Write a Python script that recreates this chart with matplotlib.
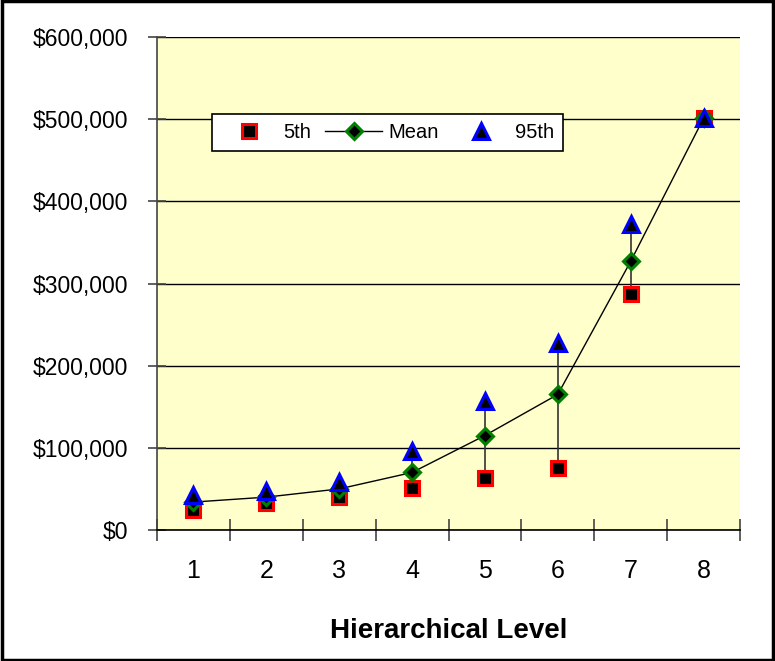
import matplotlib.pyplot as plt
from matplotlib.patches import Rectangle
from matplotlib.ticker import FuncFormatter, FixedLocator

plt.rcParams['font.family'] = ['Liberation Sans', 'DejaVu Sans']

levels = [1, 2, 3, 4, 5, 6, 7, 8]
p5 = [24000, 33000, 40000, 51000, 63000, 75000, 287000, 502000]
mean = [34000, 40000, 50000, 70000, 115000, 165000, 327000, 501000]
p95 = [42000, 48000, 59000, 96000, 157000, 228000, 372000, 501000]

fig = plt.figure(figsize=(7.75, 6.61), dpi=100)
ax = fig.add_axes([157 / 775, 1 - 530 / 661, (740 - 157) / 775, (530 - 37) / 661])
ax.set_facecolor("#FFFFCC")

# high-low lines
ax.vlines(levels, p5, p95, color="#333333", lw=1.2, zorder=2)

ax.plot(levels, p5, ls="none", marker="s", ms=9.5, mfc="black", mec="red", mew=2.2,
        label="5th", zorder=3)
ax.plot(levels, mean, color="black", lw=1, marker="D", ms=8, mfc="black", mec="green",
        mew=2.2, label="Mean", zorder=4)
ax.plot(levels, p95, ls="none", marker="^", ms=11, mfc="black", mec="blue", mew=2.2,
        label="95th", zorder=5)

ax.set_xlim(0.5, 8.5)
ax.set_ylim(0, 600000)
ax.set_yticks(range(0, 600001, 100000))
ax.yaxis.set_major_formatter(FuncFormatter(lambda v, p: "${:,.0f}".format(v)))
ax.grid(axis="y", color="black", lw=1)
ax.set_axisbelow(True)

ax.set_xticks(levels)
ax.xaxis.set_minor_locator(FixedLocator([i + 0.5 for i in range(0, 9)]))
ax.tick_params(axis="x", which="major", length=0, pad=21, labelsize=18)
ax.tick_params(axis="x", which="minor", length=16, width=1.2, color="#444444", direction="inout")
ax.tick_params(axis="y", length=13, width=1.2, color="#444444", direction="inout",
               labelsize=16.5, pad=14)

for s in ["top", "right"]:
    ax.spines[s].set_visible(False)
ax.spines["left"].set_color("#444444")
ax.spines["left"].set_linewidth(1.2)
ax.spines["bottom"].set_color("black")
ax.spines["bottom"].set_linewidth(1.2)

ax.set_xlabel("Hierarchical Level", fontsize=20, fontweight="bold", labelpad=25)

leg = fig.legend(loc="center", bbox_to_anchor=(387.5 / 775, 1 - 132.5 / 661), ncol=3,
                 fontsize=14.5, frameon=True, fancybox=False,
                 edgecolor="black", framealpha=1, numpoints=1, handlelength=2.8,
                 columnspacing=0.7, handletextpad=0.3, borderpad=0.45, borderaxespad=0)
leg.get_frame().set_linewidth(1.2)

fig.patches.append(Rectangle((0.002, 0.002), 0.996, 0.996, transform=fig.transFigure,
                             fill=False, edgecolor="black", lw=2.5))

fig.savefig("out.png", dpi=100)
